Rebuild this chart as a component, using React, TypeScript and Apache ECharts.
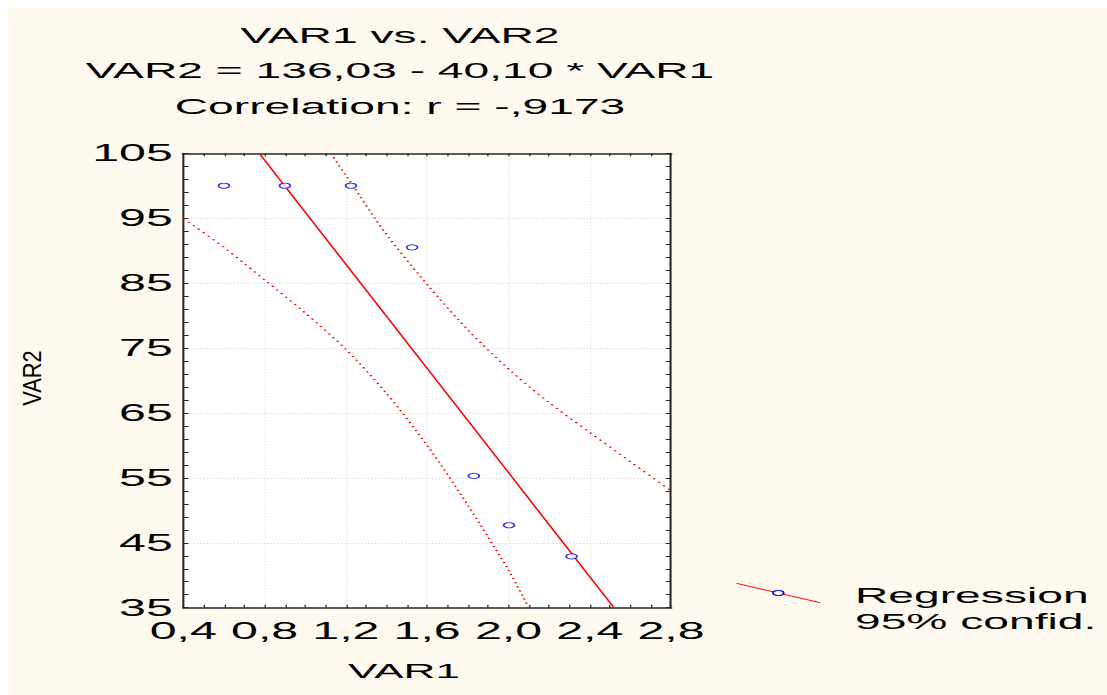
import React, { useEffect, useRef } from "react";
import * as echarts from "echarts";

// ---- data ----
const TITLE_LINES = ["VAR1 vs. VAR2", "VAR2 = 136,03 - 40,10 * VAR1", "Correlation: r = -,9173"];
const X_NAME = "VAR1";
const Y_NAME = "VAR2";
const LEGEND_LABELS = ["Regression", "95% confid."];

const X_MIN = 0.4;
const X_MAX = 2.8;
const X_STEP = 0.4;
const Y_MIN = 35;
const Y_MAX = 105;
const Y_STEP = 10;

const VAR1 = [0.6, 0.9, 1.225, 1.526, 1.83, 2.003, 2.311];
const VAR2 = [100, 100, 100, 90.5, 55.3, 47.7, 42.9];

const REG_X = [0.774, 2.519];
const REG_Y = [105, 35];

const UPPER_X = [1.126, 1.2, 1.4, 1.6, 1.8, 2.0, 2.2, 2.4, 2.6, 2.8];
const UPPER_Y = [105, 101.6, 92.5, 84.8, 77.8, 71.8, 66.6, 62.0, 57.5, 53.0];

const LOWER_X = [0.4, 0.6, 0.8, 1.0, 1.2, 1.4, 1.6, 1.8, 2.0, 2.1];
const LOWER_Y = [95.0, 90.5, 85.5, 80.4, 74.8, 68.0, 60.0, 50.8, 40.8, 35.0];

// ---- layout / style ----
const STRETCH = 2.1;
const OUTER_W = 1099;
const OUTER_H = 687;
const INNER_W = OUTER_W / STRETCH;
const CREAM = "#fef9ee";
const FONT = "'Liberation Sans', Arial, Helvetica, sans-serif";
const RED = "#ff0000";
const BLUE = "#0000ff";
const AXIS_COLOR = "#2a2a2a";

const px = (pageX: number) => (pageX - 8) / STRETCH;
const py = (pageY: number) => pageY - 8;

const pairs = (xs: number[], ys: number[]) => xs.map((x, i) => [x, ys[i] - Y_MIN]);

export default function App() {
  const ref = useRef<HTMLDivElement>(null);

  useEffect(() => {
    if (!ref.current) return;
    const chart = echarts.init(ref.current, null, { renderer: "svg" });

    const xFmt = (v: number) => v.toFixed(1).replace(".", ",");
    const yFmt = (v: number) => String(Math.round(v + Y_MIN));

    const baseX = {
      type: "value" as const,
      min: X_MIN,
      max: X_MAX,
      interval: X_STEP,
      axisLine: { show: true, onZero: false, lineStyle: { color: AXIS_COLOR, width: 1.5 } },
      axisTick: { show: true, inside: true, length: 3, lineStyle: { color: AXIS_COLOR, width: 0.6 } },
      minorTick: { show: true, splitNumber: 4, length: 3, lineStyle: { color: AXIS_COLOR, width: 0.6 } },
    };
    const baseY = {
      type: "value" as const,
      min: 0,
      max: Y_MAX - Y_MIN,
      interval: Y_STEP,
      axisLine: { show: true, onZero: false, lineStyle: { color: AXIS_COLOR, width: 1 } },
      axisTick: { show: true, inside: true, length: 2.5, lineStyle: { color: AXIS_COLOR, width: 1 } },
      minorTick: { show: true, splitNumber: 5, length: 2.5, lineStyle: { color: AXIS_COLOR, width: 1 } },
    };

    const textStyle = (text: string, size: number, align: string) => ({
      text,
      fontSize: size,
      fontFamily: FONT,
      fill: "#000",
      align,
      verticalAlign: "middle",
    });

    chart.setOption({
      animation: false,
      backgroundColor: CREAM,
      grid: {
        left: px(183.3),
        right: INNER_W - px(671.7),
        top: py(153.3),
        bottom: OUTER_H - py(607.7),
        show: true,
        backgroundColor: "#ffffff",
        borderWidth: 0,
        containLabel: false,
        outerBoundsMode: "none",
      },
      xAxis: [
        {
          ...baseX,
          position: "bottom",
          axisLabel: {
            formatter: xFmt,
            color: "#000",
            fontSize: 23,
            fontFamily: FONT,
            margin: 23.5,
            verticalAlign: "middle",
          },
          splitLine: { show: true, lineStyle: { color: "#d6d6d6", width: 0.5, type: [1, 2] } },
        },
        {
          ...baseX,
          position: "top",
          axisLabel: { show: false },
          splitLine: { show: false },
        },
      ],
      yAxis: [
        {
          ...baseY,
          position: "left",
          axisLabel: {
            formatter: yFmt,
            color: "#000",
            fontSize: 23,
            fontFamily: FONT,
            margin: 5,
          },
          splitLine: { show: true, lineStyle: { color: "#d6d6d6", width: 1, type: [0.6, 1] } },
        },
        {
          ...baseY,
          position: "right",
          axisLabel: { show: false },
          splitLine: { show: false },
        },
      ],
      series: [
        {
          type: "line",
          name: "upper",
          data: pairs(UPPER_X, UPPER_Y),
          symbol: "none",
          smooth: 0.3,
          silent: true,
          lineStyle: { color: RED, width: 1, type: [1.3, 2.9] },
          z: 2,
        },
        {
          type: "line",
          name: "lower",
          data: pairs(LOWER_X, LOWER_Y),
          symbol: "none",
          smooth: 0.3,
          silent: true,
          lineStyle: { color: RED, width: 1, type: [1.3, 2.9] },
          z: 2,
        },
        {
          type: "line",
          name: "Regression",
          data: pairs(REG_X, REG_Y),
          symbol: "none",
          silent: true,
          lineStyle: { color: RED, width: 0.9 },
          z: 3,
        },
        {
          type: "scatter",
          name: "points",
          data: pairs(VAR1, VAR2),
          symbol: "circle",
          symbolSize: 5.2,
          itemStyle: { color: "#ffffff", borderColor: BLUE, borderWidth: 0.9 },
          z: 5,
        },
      ],
      graphic: [
        ...TITLE_LINES.map((t, i) => ({
          type: "text",
          x: px(400),
          y: py([35.5, 70, 106][i]),
          style: textStyle(t, 22, "center"),
        })),
        { type: "text", x: px(404), y: py(671), style: textStyle(X_NAME, 21, "center") },
        {
          type: "text",
          x: px(32.5),
          y: py(378),
          rotation: Math.PI / 2,
          scaleX: 1.82,
          style: textStyle(Y_NAME, 12, "center"),
        },
        {
          type: "line",
          shape: { x1: px(736.7), y1: py(583.3), x2: px(820), y2: py(602.7) },
          style: { stroke: RED, lineWidth: 0.9 },
        },
        {
          type: "circle",
          shape: { cx: px(778.3), cy: py(593), r: 2.6 },
          style: { fill: CREAM, stroke: BLUE, lineWidth: 0.9 },
        },
        { type: "text", x: px(855), y: py(595), style: textStyle(LEGEND_LABELS[0], 22, "left") },
        { type: "text", x: px(855), y: py(621.7), style: textStyle(LEGEND_LABELS[1], 22, "left") },
      ],
    });

    return () => chart.dispose();
  }, []);

  return (
    <div
      style={{
        position: "absolute",
        left: 8,
        top: 8,
        width: OUTER_W,
        height: OUTER_H,
        background: CREAM,
        overflow: "hidden",
      }}
    >
      <div
        ref={ref}
        style={{
          width: INNER_W,
          height: OUTER_H,
          transform: `scaleX(${STRETCH})`,
          transformOrigin: "0 0",
        }}
      />
    </div>
  );
}
